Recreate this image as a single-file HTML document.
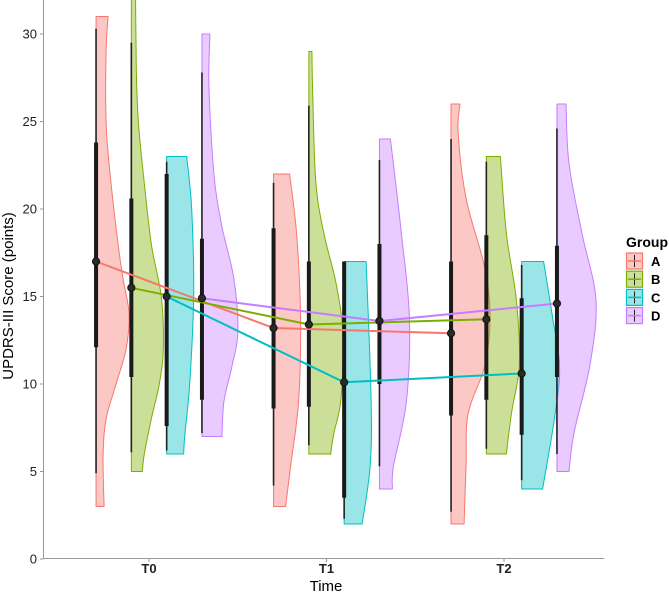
<!DOCTYPE html>
<html><head><meta charset="utf-8">
<style>
html,body{margin:0;padding:0;background:#fff;}
svg{display:block;font-family:"Liberation Sans",Arial,sans-serif;}
</style></head>
<body>
<svg id="chart" width="669" height="596" viewBox="0 0 669 596">
  <defs><clipPath id="panel"><rect x="44" y="0" width="560" height="559"/></clipPath></defs>
  <g id="plot" clip-path="url(#panel)"></g>
  <g id="axes"></g>
  <text x="13" y="296" transform="rotate(-90 13 296)" text-anchor="middle" font-size="15" fill="#000">UPDRS-III Score (points)</text>
  <text x="326" y="591" text-anchor="middle" font-size="15" fill="#000">Time</text>
  <g id="legend">
    <text x="626" y="247" font-size="14" font-weight="bold" fill="#000">Group</text>
  </g>
</svg>
<script>
const timeLabels = ["T0","T1","T2"];
const groups = ["A","B","C","D"];
const colors = ["#F8766D","#7CAE00","#00BFC4","#C77CFF"];
const yTicks = [0,5,10,15,20,25,30];
// means [group][time]
const meansA = [17.0,13.2,12.9];
const meansB = [15.5,13.4,13.7];
const meansC = [15.0,10.1,10.6];
const meansD = [14.9,13.6,14.6];
// whisker low/high, box q1/q3 [group][time]
const whiskerLo = [[4.9,4.2,2.7],[6.1,6.5,6.3],[6.2,2.3,4.5],[7.2,5.3,6.0]];
const whiskerHi = [[30.3,21.5,24.0],[29.5,25.9,22.7],[22.7,17.0,16.8],[27.8,22.8,24.6]];
const boxQ1 = [[12.1,8.6,8.2],[10.4,8.7,9.1],[7.6,3.5,7.1],[9.1,10.0,10.4]];
const boxQ3 = [[23.8,18.9,17.0],[20.6,17.0,18.5],[22.0,17.0,14.9],[18.3,18.0,17.9]];
// violin density profiles: values and density (half-width units)
const violinValues = [
 [[3,6,8,10,12,14,16,18,22,25,29,31],[3,5.3,9,13.8,18.6,22],[2,5.4,8.3,11.1,14,16.8,20.6,24.4,26]],
 [[5,6,8,10,12,15,18,22,25,28,34],[6,6.1,7.2,9.1,12.9,15.8,18.6,21.5,26.2,29],[6,8.3,11.1,14.8,18.6,23]],
 [[6,7,10,15,20,23],[2,5.3,9.1,17],[4,8.1,11,13.8,17]],
 [[7,9,11,13,16,19,22,27,30],[4,5.3,9,13.8,18.6,24],[5,7.2,11.1,14.8,18.6,22.6,26]]
];
const violinDensity = [
 [[8,7,10,20,30,33,27,22,14,10,10,12],[12,17,25,27,23,16],[13,15,17,34,39,33,15,7,9]],
 [[11,13,20,28,32,30,20,12,7,5,4],[22,22,25,32,34,27,15,7,4,3],[20,25,33,30,20,14]],
 [[17,18,23,27,25,20],[18,26,27,22],[21,33,38,31,22]],
 [[20,22,30,36,32,20,12,7,8],[13,14,27,30,22,11],[12,17,33,39,25,12,9]]
];
const meansAll = [meansA,meansB,meansC,meansD];

const NS = "http://www.w3.org/2000/svg";
function yS(v){ return 559 - 17.5*v; }
function xS(t,g){ return 149 + 177.5*t + (g-1.5)*35.3; }
function mk(tag, attrs, parent){ const e=document.createElementNS(NS,tag); for(const k in attrs) e.setAttribute(k,attrs[k]); parent.appendChild(e); return e; }
function smoothPath(pts){
  let d = "";
  for(let i=0;i<pts.length-1;i++){
    const p0=pts[Math.max(i-1,0)], p1=pts[i], p2=pts[i+1], p3=pts[Math.min(i+2,pts.length-1)];
    const c1x=p1[0]+(p2[0]-p0[0])/6, c1y=p1[1]+(p2[1]-p0[1])/6;
    const c2x=p2[0]-(p3[0]-p1[0])/6, c2y=p2[1]-(p3[1]-p1[1])/6;
    d += " C"+c1x.toFixed(1)+","+c1y.toFixed(1)+" "+c2x.toFixed(1)+","+c2y.toFixed(1)+" "+p2[0].toFixed(1)+","+p2[1].toFixed(1);
  }
  return d;
}

const plot = document.getElementById('plot');
const axes = document.getElementById('axes');

// violins
for(let g=0; g<4; g++){
  for(let t=0; t<3; t++){
    const vals = violinValues[g][t], dens = violinDensity[g][t];
    const x0 = xS(t,g);
    const pts = vals.map((v,i)=>[x0+dens[i], yS(v)]);
    let d = "M"+x0+","+yS(vals[0]).toFixed(1)+" L"+pts[0][0].toFixed(1)+","+pts[0][1].toFixed(1);
    d += smoothPath(pts);
    d += " L"+x0+","+yS(vals[vals.length-1]).toFixed(1)+" Z";
    const p = mk('path',{d:d,fill:colors[g],'fill-opacity':0.4,stroke:colors[g],'stroke-width':1,'stroke-linejoin':'round'},plot);
    
    
  }
}
// boxes
for(let g=0; g<4; g++){
  for(let t=0; t<3; t++){
    const x0 = xS(t,g);
    const w = mk('line',{x1:x0,x2:x0,y1:yS(whiskerLo[g][t]),y2:yS(whiskerHi[g][t]),stroke:'#222',"stroke-width":1.6},plot);
    
    
    const b = mk('line',{x1:x0,x2:x0,y1:yS(boxQ1[g][t]),y2:yS(boxQ3[g][t]),stroke:'#1a1a1a',"stroke-width":4},plot);
    
    
  }
}
// mean lines
for(let g=0; g<4; g++){
  const pts = meansAll[g].map((m,t)=>xS(t,g).toFixed(1)+","+yS(m).toFixed(1)).join(" ");
  const l = mk('polyline',{points:pts,fill:'none',stroke:colors[g],'stroke-width':2},plot);
  
  
}
for(let g=0; g<4; g++){
  for(let t=0;t<3;t++){
    const c = mk('circle',{cx:xS(t,g),cy:yS(meansAll[g][t]),r:3.6,fill:'#2a2a2a',stroke:'#111','stroke-width':1},plot);
    
    
  }
}
// axes
const ya = mk('line',{x1:43.5,x2:43.5,y1:0,y2:559,stroke:'#999','stroke-width':1},axes);
 
const xa = mk('line',{x1:43,x2:604,y1:558.5,y2:558.5,stroke:'#999','stroke-width':1},axes);
 
yTicks.forEach(v=>{
  const tk = mk('line',{x1:40,x2:43.5,y1:yS(v),y2:yS(v),stroke:'#999'},axes);
   
  const tx = mk('text',{x:37,y:yS(v)+4.5,'text-anchor':'end','font-size':13,fill:'#222'},axes);
  tx.textContent = v;
   
});
timeLabels.forEach((lab,t)=>{
  const x = 149 + 177.5*t;
  const tk = mk('line',{x1:x,x2:x,y1:558.5,y2:562,stroke:'#999'},axes);
   
  const tx = mk('text',{x:x,y:573,'text-anchor':'middle','font-size':13,'font-weight':'bold',fill:'#222'},axes);
  tx.textContent = lab;
   
});
// legend
const leg = document.getElementById('legend');
groups.forEach((gname,g)=>{
  const y = 253 + g*18.2;
  const r = mk('rect',{x:626.5,y:y,width:16,height:16,fill:colors[g],'fill-opacity':0.4,stroke:colors[g],'stroke-width':1.2},leg);
   
  const ln = mk('line',{x1:634.5,x2:634.5,y1:y+2,y2:y+14,stroke:'#222','stroke-width':1},leg);
   
  const hl = mk('line',{x1:628,x2:641,y1:y+8,y2:y+8,stroke:colors[g],'stroke-width':1.5},leg);
   
  const tx = mk('text',{x:651,y:y+13,'font-size':13,'font-weight':'bold',fill:'#000'},leg);
  tx.textContent = gname;
   
});
</script>
</body></html>
